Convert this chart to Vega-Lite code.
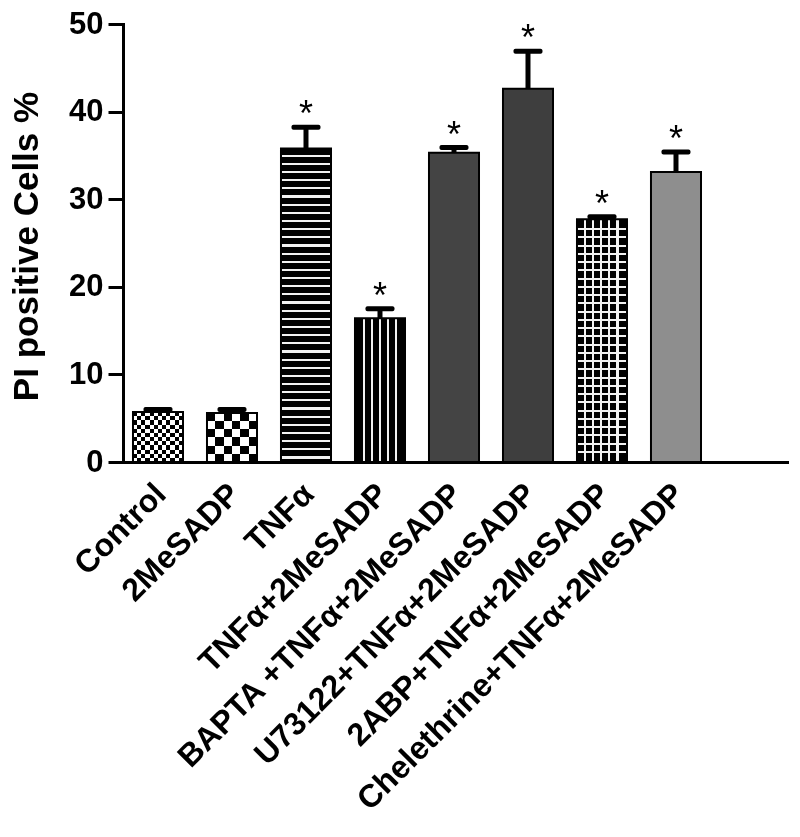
{
  "$schema": "https://vega.github.io/schema/vega-lite/v6.json",
  "width": 664,
  "height": 438,
  "autosize": "none",
  "padding": {"left": 123, "top": 24, "right": 13, "bottom": 375},
  "background": "white",
  "config": {
    "view": {"stroke": null},
    "font": "Liberation Sans",
    "axisX": {"domainColor": "black", "domainWidth": 3, "domainCap": "square", "ticks": false, "tickSize": 0, "labelAngle": -45, "labelFontSize": 32, "labelFontWeight": "bold", "labelColor": "black", "labelPadding": 16, "labelOffset": -8, "labelLimit": 0, "labelOverlap": false, "labelFont": "Liberation Sans"},
    "axisY": {"domainColor": "black", "domainWidth": 3, "domainCap": "square", "tickColor": "black", "tickWidth": 3, "tickSize": 15, "labelFontSize": 31, "labelFontWeight": "bold", "labelColor": "black", "labelPadding": 5, "labelFont": "Liberation Sans", "titleFont": "Liberation Sans", "titleFontSize": 35, "titleFontWeight": "bold", "titleColor": "black", "titleX": -86, "titleY": 222, "titleAngle": -90, "titleAlign": "center", "titleBaseline": "alphabetic", "grid": false}
  },
  "data": {"values": [
    {"group": "Control", "mean": 5.7, "upper": 6.0},
    {"group": "2MeSADP", "mean": 5.6, "upper": 6.0},
    {"group": "TNFα", "mean": 35.8, "upper": 38.2},
    {"group": "TNFα+2MeSADP", "mean": 16.4, "upper": 17.5},
    {"group": "BAPTA +TNFα+2MeSADP", "mean": 35.3, "upper": 35.9},
    {"group": "U73122+TNFα+2MeSADP", "mean": 42.6, "upper": 46.9},
    {"group": "2ABP+TNFα+2MeSADP", "mean": 27.7, "upper": 28.0},
    {"group": "Chelethrine+TNFα+2MeSADP", "mean": 33.1, "upper": 35.4}
  ]},
  "encoding": {
    "x": {"field": "group", "type": "nominal", "sort": null, "title": null,
          "scale": {"type": "band", "paddingInner": 0.324, "paddingOuter": 0.6485, "align": 0.104}}
  },
  "layer": [
    {
      "mark": {"type": "bar"},
      "encoding": {
        "y": {"field": "mean", "type": "quantitative", "title": "PI positive Cells %", "scale": {"domain": [0, 50], "nice": false}, "axis": {"values": [0, 10, 20, 30, 40, 50]}},
        "fill": {"field": "group", "type": "nominal", "legend": null,
                 "scale": {"domain": ["Control", "2MeSADP", "TNFα", "TNFα+2MeSADP", "BAPTA +TNFα+2MeSADP", "U73122+TNFα+2MeSADP", "2ABP+TNFα+2MeSADP", "Chelethrine+TNFα+2MeSADP"],
                           "range": ["#808080", "#808080", "#000000", "#000000", "#444444", "#3e3e3e", "#000000", "#8e8e8e"]}}
      }
    },
    {
      "transform": [{"filter": "datum.group === 'Control'"}],
      "mark": {"type": "bar", "fill": {"gradient": "linear", "x1": 0, "y1": 0, "x2": 1, "y2": 0, "stops": [
        {"offset": 0, "color": "black"}, {"offset": 0.0833, "color": "black"}, {"offset": 0.0833, "color": "white"}, {"offset": 0.1667, "color": "white"},
        {"offset": 0.1667, "color": "black"}, {"offset": 0.25, "color": "black"}, {"offset": 0.25, "color": "white"}, {"offset": 0.3333, "color": "white"},
        {"offset": 0.3333, "color": "black"}, {"offset": 0.4167, "color": "black"}, {"offset": 0.4167, "color": "white"}, {"offset": 0.5, "color": "white"},
        {"offset": 0.5, "color": "black"}, {"offset": 0.5833, "color": "black"}, {"offset": 0.5833, "color": "white"}, {"offset": 0.6667, "color": "white"},
        {"offset": 0.6667, "color": "black"}, {"offset": 0.75, "color": "black"}, {"offset": 0.75, "color": "white"}, {"offset": 0.8333, "color": "white"},
        {"offset": 0.8333, "color": "black"}, {"offset": 0.9167, "color": "black"}, {"offset": 0.9167, "color": "white"}, {"offset": 1, "color": "white"}]}},
      "encoding": {"y": {"field": "mean", "type": "quantitative", "title": "PI positive Cells %"}}
    },
    {
      "transform": [{"filter": "datum.group === 'Control'"}],
      "mark": {"type": "bar", "blend": "difference", "fill": {"gradient": "linear", "x1": 0, "y1": 0, "x2": 0, "y2": 1, "stops": [
        {"offset": 0, "color": "black"}, {"offset": 0.0833, "color": "black"}, {"offset": 0.0833, "color": "white"}, {"offset": 0.1667, "color": "white"},
        {"offset": 0.1667, "color": "black"}, {"offset": 0.25, "color": "black"}, {"offset": 0.25, "color": "white"}, {"offset": 0.3333, "color": "white"},
        {"offset": 0.3333, "color": "black"}, {"offset": 0.4167, "color": "black"}, {"offset": 0.4167, "color": "white"}, {"offset": 0.5, "color": "white"},
        {"offset": 0.5, "color": "black"}, {"offset": 0.5833, "color": "black"}, {"offset": 0.5833, "color": "white"}, {"offset": 0.6667, "color": "white"},
        {"offset": 0.6667, "color": "black"}, {"offset": 0.75, "color": "black"}, {"offset": 0.75, "color": "white"}, {"offset": 0.8333, "color": "white"},
        {"offset": 0.8333, "color": "black"}, {"offset": 0.9167, "color": "black"}, {"offset": 0.9167, "color": "white"}, {"offset": 1, "color": "white"}]}},
      "encoding": {"y": {"field": "mean", "type": "quantitative", "title": "PI positive Cells %"}}
    },
    {
      "transform": [{"filter": "datum.group === '2MeSADP'"}],
      "mark": {"type": "bar", "fill": {"gradient": "linear", "x1": 0, "y1": 0, "x2": 1, "y2": 0, "stops": [
        {"offset": 0, "color": "black"}, {"offset": 0.1667, "color": "black"}, {"offset": 0.1667, "color": "white"}, {"offset": 0.3333, "color": "white"},
        {"offset": 0.3333, "color": "black"}, {"offset": 0.5, "color": "black"}, {"offset": 0.5, "color": "white"}, {"offset": 0.6667, "color": "white"},
        {"offset": 0.6667, "color": "black"}, {"offset": 0.8333, "color": "black"}, {"offset": 0.8333, "color": "white"}, {"offset": 1, "color": "white"}]}},
      "encoding": {"y": {"field": "mean", "type": "quantitative", "title": "PI positive Cells %"}}
    },
    {
      "transform": [{"filter": "datum.group === '2MeSADP'"}],
      "mark": {"type": "bar", "blend": "difference", "fill": {"gradient": "linear", "x1": 0, "y1": 0, "x2": 0, "y2": 1, "stops": [
        {"offset": 0, "color": "black"}, {"offset": 0.1667, "color": "black"}, {"offset": 0.1667, "color": "white"}, {"offset": 0.3333, "color": "white"},
        {"offset": 0.3333, "color": "black"}, {"offset": 0.5, "color": "black"}, {"offset": 0.5, "color": "white"}, {"offset": 0.6667, "color": "white"},
        {"offset": 0.6667, "color": "black"}, {"offset": 0.8333, "color": "black"}, {"offset": 0.8333, "color": "white"}, {"offset": 1, "color": "white"}]}},
      "encoding": {"y": {"field": "mean", "type": "quantitative", "title": "PI positive Cells %"}}
    },
    {
      "transform": [{"filter": "datum.group === 'TNFα'"}],
      "mark": {"type": "bar", "fill": {"gradient": "linear", "x1": 0, "y1": 0, "x2": 0, "y2": 1, "stops": [
        {"offset": 0, "color": "black"},
        {"offset": 0.020, "color": "black"}, {"offset": 0.020, "color": "#f2f2f2"}, {"offset": 0.027, "color": "#f2f2f2"}, {"offset": 0.027, "color": "black"},
        {"offset": 0.046, "color": "black"}, {"offset": 0.046, "color": "#f2f2f2"}, {"offset": 0.053, "color": "#f2f2f2"}, {"offset": 0.053, "color": "black"},
        {"offset": 0.072, "color": "black"}, {"offset": 0.072, "color": "#f2f2f2"}, {"offset": 0.079, "color": "#f2f2f2"}, {"offset": 0.079, "color": "black"},
        {"offset": 0.098, "color": "black"}, {"offset": 0.098, "color": "#f2f2f2"}, {"offset": 0.105, "color": "#f2f2f2"}, {"offset": 0.105, "color": "black"},
        {"offset": 0.124, "color": "black"}, {"offset": 0.124, "color": "#f2f2f2"}, {"offset": 0.131, "color": "#f2f2f2"}, {"offset": 0.131, "color": "black"},
        {"offset": 0.150, "color": "black"}, {"offset": 0.150, "color": "#f2f2f2"}, {"offset": 0.157, "color": "#f2f2f2"}, {"offset": 0.157, "color": "black"},
        {"offset": 0.176, "color": "black"}, {"offset": 0.176, "color": "#f2f2f2"}, {"offset": 0.183, "color": "#f2f2f2"}, {"offset": 0.183, "color": "black"},
        {"offset": 0.202, "color": "black"}, {"offset": 0.202, "color": "#f2f2f2"}, {"offset": 0.209, "color": "#f2f2f2"}, {"offset": 0.209, "color": "black"},
        {"offset": 0.228, "color": "black"}, {"offset": 0.228, "color": "#f2f2f2"}, {"offset": 0.235, "color": "#f2f2f2"}, {"offset": 0.235, "color": "black"},
        {"offset": 0.254, "color": "black"}, {"offset": 0.254, "color": "#f2f2f2"}, {"offset": 0.261, "color": "#f2f2f2"}, {"offset": 0.261, "color": "black"},
        {"offset": 0.280, "color": "black"}, {"offset": 0.280, "color": "#f2f2f2"}, {"offset": 0.287, "color": "#f2f2f2"}, {"offset": 0.287, "color": "black"},
        {"offset": 0.306, "color": "black"}, {"offset": 0.306, "color": "#f2f2f2"}, {"offset": 0.313, "color": "#f2f2f2"}, {"offset": 0.313, "color": "black"},
        {"offset": 0.332, "color": "black"}, {"offset": 0.332, "color": "#f2f2f2"}, {"offset": 0.339, "color": "#f2f2f2"}, {"offset": 0.339, "color": "black"},
        {"offset": 0.358, "color": "black"}, {"offset": 0.358, "color": "#f2f2f2"}, {"offset": 0.365, "color": "#f2f2f2"}, {"offset": 0.365, "color": "black"},
        {"offset": 0.384, "color": "black"}, {"offset": 0.384, "color": "#f2f2f2"}, {"offset": 0.391, "color": "#f2f2f2"}, {"offset": 0.391, "color": "black"},
        {"offset": 0.410, "color": "black"}, {"offset": 0.410, "color": "#f2f2f2"}, {"offset": 0.417, "color": "#f2f2f2"}, {"offset": 0.417, "color": "black"},
        {"offset": 0.436, "color": "black"}, {"offset": 0.436, "color": "#f2f2f2"}, {"offset": 0.443, "color": "#f2f2f2"}, {"offset": 0.443, "color": "black"},
        {"offset": 0.462, "color": "black"}, {"offset": 0.462, "color": "#f2f2f2"}, {"offset": 0.469, "color": "#f2f2f2"}, {"offset": 0.469, "color": "black"},
        {"offset": 0.488, "color": "black"}, {"offset": 0.488, "color": "#f2f2f2"}, {"offset": 0.495, "color": "#f2f2f2"}, {"offset": 0.495, "color": "black"},
        {"offset": 0.514, "color": "black"}, {"offset": 0.514, "color": "#f2f2f2"}, {"offset": 0.521, "color": "#f2f2f2"}, {"offset": 0.521, "color": "black"},
        {"offset": 0.540, "color": "black"}, {"offset": 0.540, "color": "#f2f2f2"}, {"offset": 0.547, "color": "#f2f2f2"}, {"offset": 0.547, "color": "black"},
        {"offset": 0.566, "color": "black"}, {"offset": 0.566, "color": "#f2f2f2"}, {"offset": 0.573, "color": "#f2f2f2"}, {"offset": 0.573, "color": "black"},
        {"offset": 0.592, "color": "black"}, {"offset": 0.592, "color": "#f2f2f2"}, {"offset": 0.599, "color": "#f2f2f2"}, {"offset": 0.599, "color": "black"},
        {"offset": 0.618, "color": "black"}, {"offset": 0.618, "color": "#f2f2f2"}, {"offset": 0.625, "color": "#f2f2f2"}, {"offset": 0.625, "color": "black"},
        {"offset": 0.644, "color": "black"}, {"offset": 0.644, "color": "#f2f2f2"}, {"offset": 0.651, "color": "#f2f2f2"}, {"offset": 0.651, "color": "black"},
        {"offset": 0.670, "color": "black"}, {"offset": 0.670, "color": "#f2f2f2"}, {"offset": 0.677, "color": "#f2f2f2"}, {"offset": 0.677, "color": "black"},
        {"offset": 0.696, "color": "black"}, {"offset": 0.696, "color": "#f2f2f2"}, {"offset": 0.703, "color": "#f2f2f2"}, {"offset": 0.703, "color": "black"},
        {"offset": 0.722, "color": "black"}, {"offset": 0.722, "color": "#f2f2f2"}, {"offset": 0.729, "color": "#f2f2f2"}, {"offset": 0.729, "color": "black"},
        {"offset": 0.748, "color": "black"}, {"offset": 0.748, "color": "#f2f2f2"}, {"offset": 0.755, "color": "#f2f2f2"}, {"offset": 0.755, "color": "black"},
        {"offset": 0.774, "color": "black"}, {"offset": 0.774, "color": "#f2f2f2"}, {"offset": 0.781, "color": "#f2f2f2"}, {"offset": 0.781, "color": "black"},
        {"offset": 0.800, "color": "black"}, {"offset": 0.800, "color": "#f2f2f2"}, {"offset": 0.807, "color": "#f2f2f2"}, {"offset": 0.807, "color": "black"},
        {"offset": 0.826, "color": "black"}, {"offset": 0.826, "color": "#f2f2f2"}, {"offset": 0.833, "color": "#f2f2f2"}, {"offset": 0.833, "color": "black"},
        {"offset": 0.852, "color": "black"}, {"offset": 0.852, "color": "#f2f2f2"}, {"offset": 0.859, "color": "#f2f2f2"}, {"offset": 0.859, "color": "black"},
        {"offset": 0.878, "color": "black"}, {"offset": 0.878, "color": "#f2f2f2"}, {"offset": 0.885, "color": "#f2f2f2"}, {"offset": 0.885, "color": "black"},
        {"offset": 0.904, "color": "black"}, {"offset": 0.904, "color": "#f2f2f2"}, {"offset": 0.911, "color": "#f2f2f2"}, {"offset": 0.911, "color": "black"},
        {"offset": 0.930, "color": "black"}, {"offset": 0.930, "color": "#f2f2f2"}, {"offset": 0.937, "color": "#f2f2f2"}, {"offset": 0.937, "color": "black"},
        {"offset": 0.956, "color": "black"}, {"offset": 0.956, "color": "#f2f2f2"}, {"offset": 0.963, "color": "#f2f2f2"}, {"offset": 0.963, "color": "black"},
        {"offset": 0.982, "color": "black"}, {"offset": 0.982, "color": "#f2f2f2"}, {"offset": 0.989, "color": "#f2f2f2"}, {"offset": 0.989, "color": "black"},
        {"offset": 1, "color": "black"}]}},
      "encoding": {"y": {"field": "mean", "type": "quantitative", "title": "PI positive Cells %"}}
    },
    {
      "transform": [{"filter": "datum.group === 'TNFα+2MeSADP'"}],
      "mark": {"type": "bar", "fill": {"gradient": "linear", "x1": 0, "y1": 0, "x2": 1, "y2": 0, "stops": [
        {"offset": 0, "color": "black"},
        {"offset": 0.16, "color": "black"}, {"offset": 0.16, "color": "#f2f2f2"}, {"offset": 0.20, "color": "#f2f2f2"}, {"offset": 0.20, "color": "black"},
        {"offset": 0.32, "color": "black"}, {"offset": 0.32, "color": "#f2f2f2"}, {"offset": 0.36, "color": "#f2f2f2"}, {"offset": 0.36, "color": "black"},
        {"offset": 0.48, "color": "black"}, {"offset": 0.48, "color": "#f2f2f2"}, {"offset": 0.52, "color": "#f2f2f2"}, {"offset": 0.52, "color": "black"},
        {"offset": 0.64, "color": "black"}, {"offset": 0.64, "color": "#f2f2f2"}, {"offset": 0.68, "color": "#f2f2f2"}, {"offset": 0.68, "color": "black"},
        {"offset": 0.80, "color": "black"}, {"offset": 0.80, "color": "#f2f2f2"}, {"offset": 0.84, "color": "#f2f2f2"}, {"offset": 0.84, "color": "black"},
        {"offset": 1, "color": "black"}]}},
      "encoding": {"y": {"field": "mean", "type": "quantitative", "title": "PI positive Cells %"}}
    },
    {
      "transform": [{"filter": "datum.group === '2ABP+TNFα+2MeSADP'"}],
      "mark": {"type": "bar", "fill": {"gradient": "linear", "x1": 0, "y1": 0, "x2": 1, "y2": 0, "stops": [
        {"offset": 0, "color": "black"},
        {"offset": 0.145, "color": "black"}, {"offset": 0.145, "color": "#f2f2f2"}, {"offset": 0.185, "color": "#f2f2f2"}, {"offset": 0.185, "color": "black"},
        {"offset": 0.305, "color": "black"}, {"offset": 0.305, "color": "#f2f2f2"}, {"offset": 0.345, "color": "#f2f2f2"}, {"offset": 0.345, "color": "black"},
        {"offset": 0.465, "color": "black"}, {"offset": 0.465, "color": "#f2f2f2"}, {"offset": 0.505, "color": "#f2f2f2"}, {"offset": 0.505, "color": "black"},
        {"offset": 0.63, "color": "black"}, {"offset": 0.63, "color": "#f2f2f2"}, {"offset": 0.67, "color": "#f2f2f2"}, {"offset": 0.67, "color": "black"},
        {"offset": 0.79, "color": "black"}, {"offset": 0.79, "color": "#f2f2f2"}, {"offset": 0.83, "color": "#f2f2f2"}, {"offset": 0.83, "color": "black"},
        {"offset": 1, "color": "black"}]}},
      "encoding": {"y": {"field": "mean", "type": "quantitative", "title": "PI positive Cells %"}}
    },
    {
      "transform": [{"filter": "datum.group === '2ABP+TNFα+2MeSADP'"}],
      "mark": {"type": "bar", "fill": {"gradient": "linear", "x1": 0, "y1": 0, "x2": 0, "y2": 1, "stops": [
        {"offset": 0, "color": "rgba(0,0,0,0)"},
        {"offset": 0.036, "color": "rgba(0,0,0,0)"}, {"offset": 0.036, "color": "#f2f2f2"}, {"offset": 0.044, "color": "#f2f2f2"}, {"offset": 0.044, "color": "rgba(0,0,0,0)"},
        {"offset": 0.070, "color": "rgba(0,0,0,0)"}, {"offset": 0.070, "color": "#f2f2f2"}, {"offset": 0.078, "color": "#f2f2f2"}, {"offset": 0.078, "color": "rgba(0,0,0,0)"},
        {"offset": 0.104, "color": "rgba(0,0,0,0)"}, {"offset": 0.104, "color": "#f2f2f2"}, {"offset": 0.112, "color": "#f2f2f2"}, {"offset": 0.112, "color": "rgba(0,0,0,0)"},
        {"offset": 0.138, "color": "rgba(0,0,0,0)"}, {"offset": 0.138, "color": "#f2f2f2"}, {"offset": 0.146, "color": "#f2f2f2"}, {"offset": 0.146, "color": "rgba(0,0,0,0)"},
        {"offset": 0.172, "color": "rgba(0,0,0,0)"}, {"offset": 0.172, "color": "#f2f2f2"}, {"offset": 0.180, "color": "#f2f2f2"}, {"offset": 0.180, "color": "rgba(0,0,0,0)"},
        {"offset": 0.206, "color": "rgba(0,0,0,0)"}, {"offset": 0.206, "color": "#f2f2f2"}, {"offset": 0.214, "color": "#f2f2f2"}, {"offset": 0.214, "color": "rgba(0,0,0,0)"},
        {"offset": 0.240, "color": "rgba(0,0,0,0)"}, {"offset": 0.240, "color": "#f2f2f2"}, {"offset": 0.248, "color": "#f2f2f2"}, {"offset": 0.248, "color": "rgba(0,0,0,0)"},
        {"offset": 0.274, "color": "rgba(0,0,0,0)"}, {"offset": 0.274, "color": "#f2f2f2"}, {"offset": 0.282, "color": "#f2f2f2"}, {"offset": 0.282, "color": "rgba(0,0,0,0)"},
        {"offset": 0.308, "color": "rgba(0,0,0,0)"}, {"offset": 0.308, "color": "#f2f2f2"}, {"offset": 0.316, "color": "#f2f2f2"}, {"offset": 0.316, "color": "rgba(0,0,0,0)"},
        {"offset": 0.342, "color": "rgba(0,0,0,0)"}, {"offset": 0.342, "color": "#f2f2f2"}, {"offset": 0.350, "color": "#f2f2f2"}, {"offset": 0.350, "color": "rgba(0,0,0,0)"},
        {"offset": 0.376, "color": "rgba(0,0,0,0)"}, {"offset": 0.376, "color": "#f2f2f2"}, {"offset": 0.384, "color": "#f2f2f2"}, {"offset": 0.384, "color": "rgba(0,0,0,0)"},
        {"offset": 0.410, "color": "rgba(0,0,0,0)"}, {"offset": 0.410, "color": "#f2f2f2"}, {"offset": 0.418, "color": "#f2f2f2"}, {"offset": 0.418, "color": "rgba(0,0,0,0)"},
        {"offset": 0.444, "color": "rgba(0,0,0,0)"}, {"offset": 0.444, "color": "#f2f2f2"}, {"offset": 0.452, "color": "#f2f2f2"}, {"offset": 0.452, "color": "rgba(0,0,0,0)"},
        {"offset": 0.478, "color": "rgba(0,0,0,0)"}, {"offset": 0.478, "color": "#f2f2f2"}, {"offset": 0.486, "color": "#f2f2f2"}, {"offset": 0.486, "color": "rgba(0,0,0,0)"},
        {"offset": 0.512, "color": "rgba(0,0,0,0)"}, {"offset": 0.512, "color": "#f2f2f2"}, {"offset": 0.520, "color": "#f2f2f2"}, {"offset": 0.520, "color": "rgba(0,0,0,0)"},
        {"offset": 0.546, "color": "rgba(0,0,0,0)"}, {"offset": 0.546, "color": "#f2f2f2"}, {"offset": 0.554, "color": "#f2f2f2"}, {"offset": 0.554, "color": "rgba(0,0,0,0)"},
        {"offset": 0.580, "color": "rgba(0,0,0,0)"}, {"offset": 0.580, "color": "#f2f2f2"}, {"offset": 0.588, "color": "#f2f2f2"}, {"offset": 0.588, "color": "rgba(0,0,0,0)"},
        {"offset": 0.614, "color": "rgba(0,0,0,0)"}, {"offset": 0.614, "color": "#f2f2f2"}, {"offset": 0.622, "color": "#f2f2f2"}, {"offset": 0.622, "color": "rgba(0,0,0,0)"},
        {"offset": 0.648, "color": "rgba(0,0,0,0)"}, {"offset": 0.648, "color": "#f2f2f2"}, {"offset": 0.656, "color": "#f2f2f2"}, {"offset": 0.656, "color": "rgba(0,0,0,0)"},
        {"offset": 0.682, "color": "rgba(0,0,0,0)"}, {"offset": 0.682, "color": "#f2f2f2"}, {"offset": 0.690, "color": "#f2f2f2"}, {"offset": 0.690, "color": "rgba(0,0,0,0)"},
        {"offset": 0.716, "color": "rgba(0,0,0,0)"}, {"offset": 0.716, "color": "#f2f2f2"}, {"offset": 0.724, "color": "#f2f2f2"}, {"offset": 0.724, "color": "rgba(0,0,0,0)"},
        {"offset": 0.750, "color": "rgba(0,0,0,0)"}, {"offset": 0.750, "color": "#f2f2f2"}, {"offset": 0.758, "color": "#f2f2f2"}, {"offset": 0.758, "color": "rgba(0,0,0,0)"},
        {"offset": 0.784, "color": "rgba(0,0,0,0)"}, {"offset": 0.784, "color": "#f2f2f2"}, {"offset": 0.792, "color": "#f2f2f2"}, {"offset": 0.792, "color": "rgba(0,0,0,0)"},
        {"offset": 0.818, "color": "rgba(0,0,0,0)"}, {"offset": 0.818, "color": "#f2f2f2"}, {"offset": 0.826, "color": "#f2f2f2"}, {"offset": 0.826, "color": "rgba(0,0,0,0)"},
        {"offset": 0.852, "color": "rgba(0,0,0,0)"}, {"offset": 0.852, "color": "#f2f2f2"}, {"offset": 0.860, "color": "#f2f2f2"}, {"offset": 0.860, "color": "rgba(0,0,0,0)"},
        {"offset": 0.886, "color": "rgba(0,0,0,0)"}, {"offset": 0.886, "color": "#f2f2f2"}, {"offset": 0.894, "color": "#f2f2f2"}, {"offset": 0.894, "color": "rgba(0,0,0,0)"},
        {"offset": 0.920, "color": "rgba(0,0,0,0)"}, {"offset": 0.920, "color": "#f2f2f2"}, {"offset": 0.928, "color": "#f2f2f2"}, {"offset": 0.928, "color": "rgba(0,0,0,0)"},
        {"offset": 0.954, "color": "rgba(0,0,0,0)"}, {"offset": 0.954, "color": "#f2f2f2"}, {"offset": 0.962, "color": "#f2f2f2"}, {"offset": 0.962, "color": "rgba(0,0,0,0)"},
        {"offset": 1, "color": "rgba(0,0,0,0)"}]}},
      "encoding": {"y": {"field": "mean", "type": "quantitative", "title": "PI positive Cells %"}}
    },
    {
      "mark": {"type": "bar", "filled": false, "stroke": "black", "strokeWidth": 2},
      "encoding": {"y": {"field": "mean", "type": "quantitative", "title": "PI positive Cells %"}}
    },
    {
      "mark": {"type": "rule", "color": "black", "strokeWidth": 5},
      "encoding": {
        "y": {"field": "mean", "type": "quantitative", "title": "PI positive Cells %"},
        "y2": {"field": "upper"}
      }
    },
    {
      "mark": {"type": "tick", "color": "black", "thickness": 5, "size": 29, "opacity": 1, "cornerRadius": 2},
      "encoding": {"y": {"field": "upper", "type": "quantitative", "title": "PI positive Cells %"}}
    },
    {
      "transform": [{"filter": "datum.group !== 'Control' && datum.group !== '2MeSADP'"}],
      "mark": {"type": "text", "text": "*", "fontSize": 36, "font": "Liberation Sans", "color": "black", "baseline": "alphabetic", "dy": -1},
      "encoding": {"y": {"field": "upper", "type": "quantitative", "title": "PI positive Cells %"}}
    }
  ]
}
